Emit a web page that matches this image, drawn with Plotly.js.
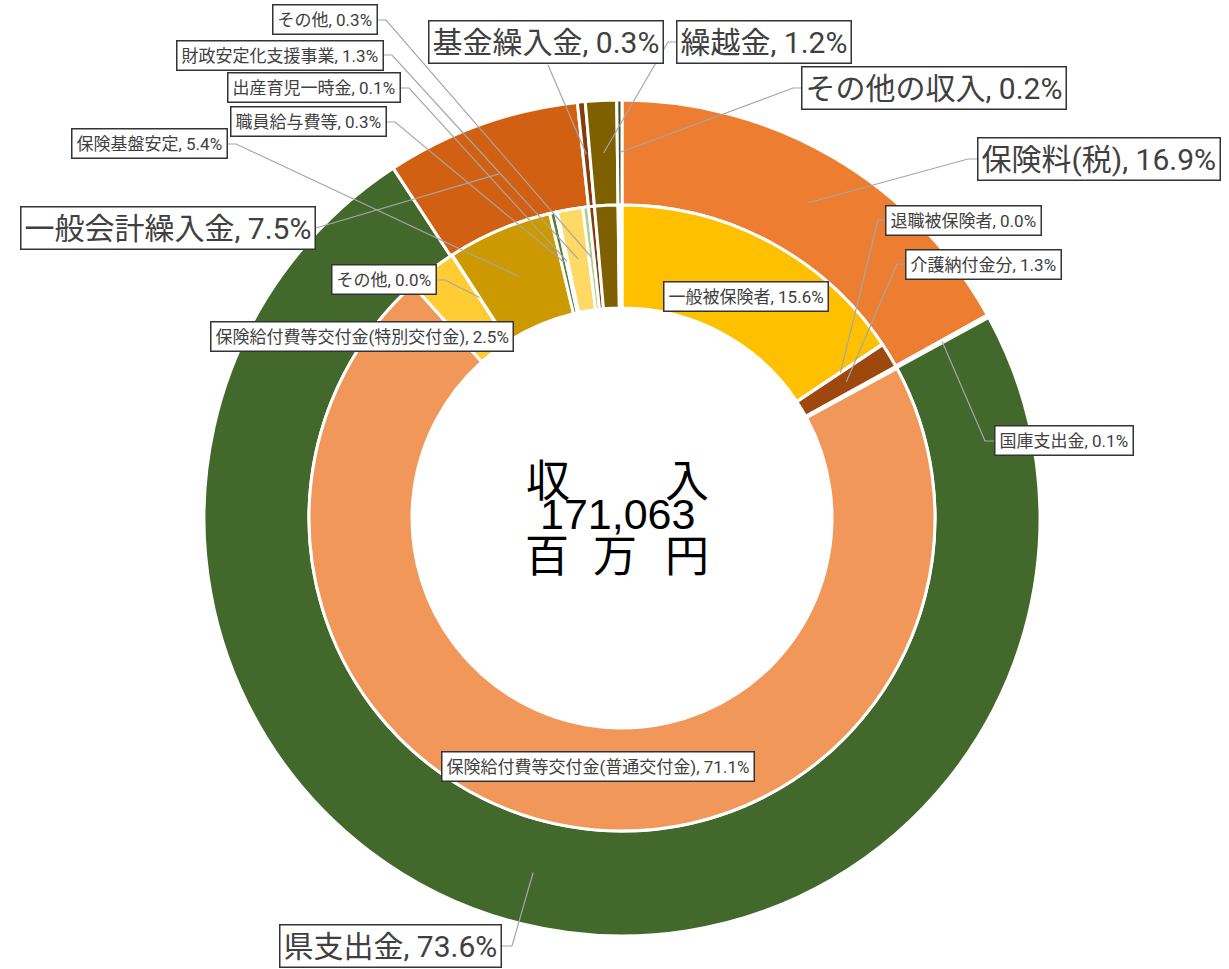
<!DOCTYPE html>
<html><head><meta charset="utf-8">
<script src="https://cdn.plot.ly/plotly-3.0.1.min.js"></script>
<style>html,body{margin:0;padding:0;background:#fff}</style>
</head><body><div id="chart" style="width:1229px;height:969px"></div>
<script>
// ---- data ----
const outerLabels = ['保険料(税)','国庫支出金','県支出金','一般会計繰入金','基金繰入金','繰越金','その他の収入'];
const outerValues = [16.9, 0.1, 73.6, 7.5, 0.3, 1.2, 0.2];
const outerColors = ['#ED7D31','#43682B','#43682B','#D26012','#843C0C','#7F6000','#375623'];

const innerLabels = ['一般被保険者','退職被保険者','介護納付金分','国庫支出金',
  '保険給付費等交付金(普通交付金)','保険給付費等交付金(特別交付金)','その他',
  '保険基盤安定','職員給与費等','出産育児一時金','財政安定化支援事業','その他',
  '基金繰入金','繰越金','その他の収入'];
const innerValues = [15.6, 0.02, 1.3, 0.1, 71.1, 2.5, 0.02, 5.4, 0.3, 0.1, 1.3, 0.3, 0.3, 1.2, 0.2];
const innerColors = ['#FFC000','#C55A11','#9E480E','#FFFFFF','#F1975A','#FFCD33','#FFE699',
  '#CC9A00','#548235','#A9D18E','#FFD966','#A9D18E','#843C0C','#7F6000','#FFFFFF'];

const centerWords = ['収','入'];
const totalText = '171,063';
const unitChars = ['百','万','円'];

// ---- layout geometry (pixels) ----
const W = 1229, H = 969;
const CX = 622, CY = 518, R_OUT = 418, R_MID = 313, R_IN = 210;
const px = x => x / W, py = y => 1 - y / H;

function dom(r){ return {x:[px(CX-r), px(CX+r)], y:[py(CY+r), py(CY-r)]}; }

// label boxes: ring, index, anchor x/y (px), side, font size
const labelLayout = [
  {ring:'inner', i:11, x:378, y:20,  side:'right', size:17, elbow:8},
  {ring:'inner', i:10, x:384, y:55,  side:'right', size:17, elbow:8},
  {ring:'inner', i:9,  x:401, y:88,  side:'right', size:17, elbow:8},
  {ring:'inner', i:8,  x:387, y:122, side:'right', size:17, elbow:8},
  {ring:'inner', i:7,  x:228, y:144, side:'right', size:17, elbow:8},
  {ring:'outer', i:3,  x:316, y:228, side:'right', size:30, elbow:0},
  {ring:'inner', i:6,  x:437, y:280, side:'right', size:17, elbow:8},
  {ring:'outer', i:2,  x:502, y:946, side:'right', size:30, elbow:10},
  {ring:'outer', i:4,  x:546, y:42,  side:'center', size:30, sx:548, sy:65},
  {ring:'outer', i:5,  x:676, y:42,  side:'left', size:30, elbow:8},
  {ring:'outer', i:6,  x:801, y:88,  side:'left', size:30, elbow:8},
  {ring:'outer', i:0,  x:977, y:159, side:'left', size:30, elbow:9},
  {ring:'inner', i:1,  x:885, y:220, side:'left', size:17, elbow:7},
  {ring:'inner', i:2,  x:905, y:264, side:'left', size:17, elbow:8},
  {ring:'outer', i:1,  x:994, y:441, side:'left', size:17, elbow:9},
  {ring:'inner', i:0,  x:746, y:296, side:'center', size:17},
  {ring:'inner', i:5,  x:362, y:337, side:'center', size:17},
  {ring:'inner', i:4,  x:598, y:766, side:'center', size:17}
];

function midPoint(values, i, r){
  const tot = values.reduce((a,b)=>a+b,0);
  let c = 0; for(let k=0;k<i;k++) c += values[k];
  const th = (c + values[i]/2) / tot * 2*Math.PI;
  return [CX + r*Math.sin(th), CY - r*Math.cos(th)];
}

const annotations = [];
const shapes = [];
const txtColor = '#404040';
const FONT = "Roboto, 'Noto Sans CJK JP', sans-serif";

labelLayout.forEach(L => {
  const labels = L.ring==='outer' ? outerLabels : innerLabels;
  const values = L.ring==='outer' ? outerValues : innerValues;
  const text = labels[L.i] + ', ' + values[L.i].toFixed(1) + '%';
  const xa = L.side==='right' ? 'right' : (L.side==='left' ? 'left' : 'center');
  annotations.push({
    xref:'paper', yref:'paper', x:px(L.x), y:py(L.y), xanchor:xa, yanchor:'middle',
    text:text, showarrow:false, font:{family:FONT, size:L.size, color:txtColor},
    bgcolor:'#FFFFFF', bordercolor:'#333333', borderwidth:1.5, borderpad: L.size > 20 ? 3 : 4
  });
  let start = null, elbow = null;
  if (L.side==='right'){ start=[L.x,L.y]; elbow=[L.x+L.elbow,L.y]; }
  else if (L.side==='left'){ start=[L.x,L.y]; elbow=[L.x-L.elbow,L.y]; }
  else if (L.sx!==undefined){ start=[L.sx,L.sy]; elbow=[L.sx,L.sy]; }
  if (start){
    const r = L.ring==='outer' ? (R_OUT+R_MID)/2 : (R_MID+R_IN)/2 + 1;
    const t = midPoint(values, L.i, r);
    shapes.push({type:'path', xref:'paper', yref:'paper',
      path:`M ${px(start[0])},${py(start[1])} L ${px(elbow[0])},${py(elbow[1])} L ${px(t[0])},${py(t[1])}`,
      line:{color:'#A6A6A6', width:1.2}});
  }
});

// center text
const cFont = {family:"'Noto Sans CJK JP', sans-serif", size:44, color:'#000'};
const centerItems = [
  [centerWords[0], 548, 478], [centerWords[1], 687, 478],
  [totalText, 618, 514],
  [unitChars[0], 547, 553], [unitChars[1], 615, 553], [unitChars[2], 687, 553]
];
centerItems.forEach(([t,x,y]) => {
  annotations.push({xref:'paper', yref:'paper', x:px(x), y:py(y), xanchor:'center', yanchor:'middle',
    text:t, showarrow:false,
    font: t===totalText ? {family:"'Liberation Sans', Arial, sans-serif", size:43, color:'#000'} : cFont});
});

const traces = [
  {type:'pie', labels:outerLabels, values:outerValues, sort:false, direction:'clockwise', rotation:0,
   hole:R_MID/R_OUT, domain:dom(R_OUT), textinfo:'none', hoverinfo:'label+percent',
   marker:{colors:outerColors, line:{color:'#FFFFFF', width:3}}, showlegend:false},
  {type:'pie', labels:innerLabels.map((l,k)=>l+'#'+k), values:innerValues, sort:false, direction:'clockwise', rotation:0,
   hole:R_IN/R_MID, domain:dom(R_MID), textinfo:'none', hoverinfo:'label+percent',
   marker:{colors:innerColors, line:{color:'#FFFFFF', width:3}}, showlegend:false}
];

Plotly.newPlot('chart', traces, {
  width:W, height:H, margin:{l:0,r:0,t:0,b:0}, paper_bgcolor:'#FFFFFF',
  showlegend:false, annotations:annotations, shapes:shapes
}, {displayModeBar:false, staticPlot:true});
</script>
</body></html>
